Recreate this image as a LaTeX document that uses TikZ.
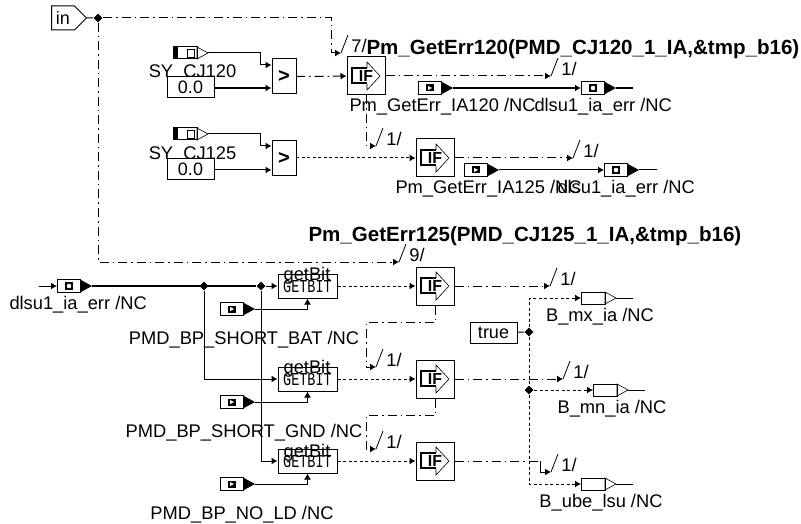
\documentclass[tikz,border=0pt]{standalone}
\usepackage{fontspec}
\setmainfont{Liberation Sans}
\setmonofont{Liberation Mono}
\usetikzlibrary{arrows.meta,positioning,calc,shapes.geometric,shapes.symbols}

\begin{document}
\begin{tikzpicture}[
    x=1pt, y=-1pt, line width=1pt,
    lbl/.style={font=\fontsize{18.3}{20}\selectfont, inner sep=0pt, yshift=-1.5pt},
    blbl/.style={font=\fontsize{20.55}{22}\selectfont\bfseries, inner sep=0pt, yshift=-1pt},
    box/.style={rectangle, draw=black, fill=white, inner sep=0pt},
    cst/.style={box, minimum width=47pt, minimum height=21pt, font=\fontsize{18}{20}\selectfont},
    cmpb/.style={box, minimum width=24pt, minimum height=35pt, font=\fontsize{20}{20}\selectfont\bfseries},
    gbit/.style={box, minimum width=59pt, minimum height=24pt, fill=none, font=\fontsize{13.5}{14}\ttfamily},
    jun/.style={diamond, fill=black, inner sep=0pt, minimum size=9pt},
    inb/.style={signal, signal to=east, signal pointer angle=90, draw=black, fill=white, inner sep=0pt,
                minimum width=35pt, minimum height=24pt, font=\fontsize{18}{20}\selectfont},
    arr/.style={-{Latex[length=6pt,width=7pt]}},
    wd/.style={dash pattern=on 9pt off 4pt on 1.5pt off 4pt},
    sd/.style={dash pattern=on 3pt off 2.5pt},
    hvy/.style={line width=1.6pt},
    % IF block
    ifb/.pic={
        \node[box, minimum size=38pt] (-box) at (0,0) {};
        \draw[line width=0.6pt, fill=white] (1,-8) -- (1,-14) -- (14,0) -- (1,14) -- (1,8);
        \draw[line width=1.2pt] (1,-8) -- (-14,-8) -- (-14,7) -- (1,7);
        \node[font=\fontsize{16}{16}\selectfont\bfseries, inner sep=0pt] at (0,0) {IF};
    },
    % SY_ input
    syin/.pic={
        \coordinate (-e) at (35,0);
        \fill (0,-6) rectangle (5,6);
        \draw (0,-6) rectangle (24,6);
        \draw[line width=0.6pt] (24,-6) -- (35,0) -- (24,6) -- cycle;
        \draw[line width=0.6pt] (14,-4) rectangle (21,4);
    },
    % input with black tip
    cin/.pic={
        \coordinate (-e) at (35,0);
        \draw (0,-6.5) rectangle (23,6.5);
        \fill (23,-6.5) -- (35,0) -- (23,6.5) -- cycle;
        \fill (8,-3.5) rectangle (16,3.5);
        \fill[white] (10,-2) -- (14,0) -- (10,2) -- cycle;
    },
    % block with black tip and circle
    cout/.pic={
        \coordinate (-w) at (0,0);
        \coordinate (-e) at (35,0);
        \draw (0,-6.5) rectangle (23,6.5);
        \fill (23,-6.5) -- (35,0) -- (23,6.5) -- cycle;
        \fill (8,-4) rectangle (16,4);
        \fill[white] (12,0) circle (2.3);
    },
    % boolean output
    bout/.pic={
        \coordinate (-w) at (0,0);
        \coordinate (-e) at (35,0);
        \draw (0,-6) rectangle (24,6);
        \draw[line width=0.6pt] (24,-6) -- (35,0) -- (24,6) -- cycle;
    },
]
\useasboundingbox (0,0) rectangle (801,524);

% labels
\node[lbl] (lsy1) at (192.5,71) {SY\_CJ120};
\node[lbl] (lsy2) at (192.5,153) {SY\_CJ125};
\node[blbl, anchor=west] (ltop) at (366,48) {Pm\_GetErr120(PMD\_CJ120\_1\_IA,\&tmp\_b16)};
\node[blbl, anchor=west] (lmid) at (308,235) {Pm\_GetErr125(PMD\_CJ125\_1\_IA,\&tmp\_b16)};
\node[lbl, anchor=west] (lia1) at (349,105) {Pm\_GetErr\_IA120 /NC};
\node[lbl, anchor=west] (ler1) at (534,105) {dlsu1\_ia\_err /NC};
\node[lbl, anchor=west] (lia2) at (395,187) {Pm\_GetErr\_IA125 /NC};
\node[lbl, anchor=west] (ler2) at (557,187) {dlsu1\_ia\_err /NC};
\node[lbl, anchor=west] (ler3) at (9,303) {dlsu1\_ia\_err /NC};
\node[lbl] (lbat) at (244,338) {PMD\_BP\_SHORT\_BAT /NC};
\node[lbl] (lgnd) at (244,431) {PMD\_BP\_SHORT\_GND /NC};
\node[lbl] (lnld) at (242,513) {PMD\_BP\_NO\_LD /NC};
\node[lbl] (lmx) at (600,315) {B\_mx\_ia /NC};
\node[lbl] (lmn) at (612,407) {B\_mn\_ia /NC};
\node[lbl] (lube) at (601,501) {B\_ube\_lsu /NC};
\node[lbl] (lg1) at (307,274) {getBit};
\node[lbl] (lg2) at (307,367) {getBit};
\node[lbl] (lg3) at (307,451) {getBit};

% top part
\node[inb] (inp) at (63,18) {in\hspace{6pt}};
\node[jun] (j0) at (98,18) {};
\pic (s1) at (173,53) {syin};
\pic (s2) at (173,134) {syin};
\node[cst] (c1) at (190.5,87.5) {0.0};
\node[cst] (c2) at (190.5,169.5) {0.0};
\node[cmpb] (cmp1) at (284,76.5) {>};
\node[cmpb] (cmp2) at (284,158) {>};
\pic (if1) at (366,76) {ifb};
\pic (if2) at (435,158) {ifb};
\pic (i1) at (418,88) {cin};
\pic (o1) at (581,88) {cout};
\pic (i2) at (464,170) {cin};
\pic (o2) at (604,170) {cout};
\coordinate (e1) at (633,88);
\coordinate (e2) at (657,170);

% lower part
\pic (o3) at (57,286) {cout};
\coordinate (st) at (39,286);
\node[jun] (j1) at (204,286) {};
\node[jun] (j2) at (261,286) {};
\node[gbit] (gb1) at (307.5,286) {\scalebox{1}[1.35]{GETBIT}};
\node[gbit] (gb2) at (307.5,379) {\scalebox{1}[1.35]{GETBIT}};
\node[gbit] (gb3) at (307.5,461) {\scalebox{1}[1.35]{GETBIT}};
\pic (i3) at (220,309) {cin};
\pic (i4) at (220,402) {cin};
\pic (i5) at (220,484) {cin};
\pic (if3) at (435,286) {ifb};
\pic (if4) at (435,379) {ifb};
\pic (if5) at (435,461) {ifb};
\node[cst] (tr) at (493.5,332.5) {true};
\node[jun] (j3) at (529,332) {};
\node[jun] (j4) at (529,390) {};
\pic (b1) at (581,298) {bout};
\pic (b2) at (593,390) {bout};
\pic (b3) at (581,484) {bout};
\coordinate (eb1) at (633,298);
\coordinate (eb2) at (645,390);
\coordinate (eb3) at (633,484);

% free ends with tick
\coordinate (ta) at (341,53);
\coordinate (tb) at (551,76);
\coordinate (tc) at (376,146);
\coordinate (td) at (573,158);
\coordinate (te) at (399,262);
\coordinate (tf) at (550,286);
\coordinate (tg) at (376,367);
\coordinate (th) at (563,379);
\coordinate (ti) at (376,449);
\coordinate (tj) at (551,472);
\foreach \t/\v in {a/7,b/1,c/1,d/1,e/9,f/1,g/1,h/1,i/1,j/1}{
    \draw[line width=0.8pt] (t\t) -- ++(7,-18);
    \node[lbl] (n\t) at ($(t\t)+(18,-9)$) {\v/};
}

% wires
\draw (inp) -- (j0);
\draw[wd, arr] (j0) -| ($(ta)+(-10,0)$) -- (ta);
\draw[wd, arr] (j0) |- (te);
\draw[arr] (s1-e) -- ++(52,0) |- ($(cmp1.west)+(0,-11.5)$);
\draw[arr] (s2-e) -- ++(52,0) |- ($(cmp2.west)+(0,-12)$);
\draw[hvy, arr] (c1) ++(23.5,0.5) -- ($(cmp1.west)+(0,11.5)$);
\draw[arr] (c2) ++(23.5,0.5) -- ($(cmp2.west)+(0,12)$);
\draw[wd, arr] (cmp1) ++(12,0) -- (if1-box);
\draw[sd, arr] (cmp2) ++(12,0) -- (if2-box);
\draw[wd, arr] (if1-box) -- (tb);
\draw[wd, arr] (if1-box) |- (tc);
\draw[wd, arr] (if2-box) -- (td);
\draw[hvy, arr] (i1-e) -- (o1-w);
\draw[arr] (i2-e) -- (o2-w);
\draw[hvy] (o1-e) -- (e1);
\draw (o2-e) -- (e2);

\draw[arr] (st) -- (o3-w);
\draw[hvy] (o3-e) -- (j2);
\draw[arr] (j2) -- (gb1);
\draw[arr] (j1) |- (gb2);
\draw[arr] (j2) |- (gb3);
\draw[arr] (i3-e) -| (gb1);
\draw[arr] (i4-e) -| (gb2);
\draw[arr] (i5-e) -| (gb3);
\draw[sd, arr] (gb1) -- (if3-box);
\draw[sd, arr] (gb2) -- (if4-box);
\draw[sd, arr] (gb3) -- (if5-box);
\draw[wd, arr] (if3-box) -- (tf);
\draw[wd, arr] (if4-box) -- (th);
\draw[wd] (if5-box) -- ++(105,0) coordinate (k5);
\draw[arr] (k5) |- (tj);
\draw[wd, arr] (if3-box.south) -- ++(0,17) -| ($(tg)+(-10,0)$) -- (tg);
\draw[wd, arr] (if4-box.south) -- ++(0,17) -| ($(ti)+(-10,0)$) -- (ti);

\draw (tr) -- (j3);
\draw[sd] (j3) -- (j4);
\draw[sd, arr] (j3) |- (b1-w);
\draw[sd, arr] (j4) -- (b2-w);
\draw[sd, arr] (j4) |- (b3-w);
\draw (b1-e) -- (eb1);
\draw (b2-e) -- (eb2);
\draw (b3-e) -- (eb3);

\end{tikzpicture}
\end{document}
